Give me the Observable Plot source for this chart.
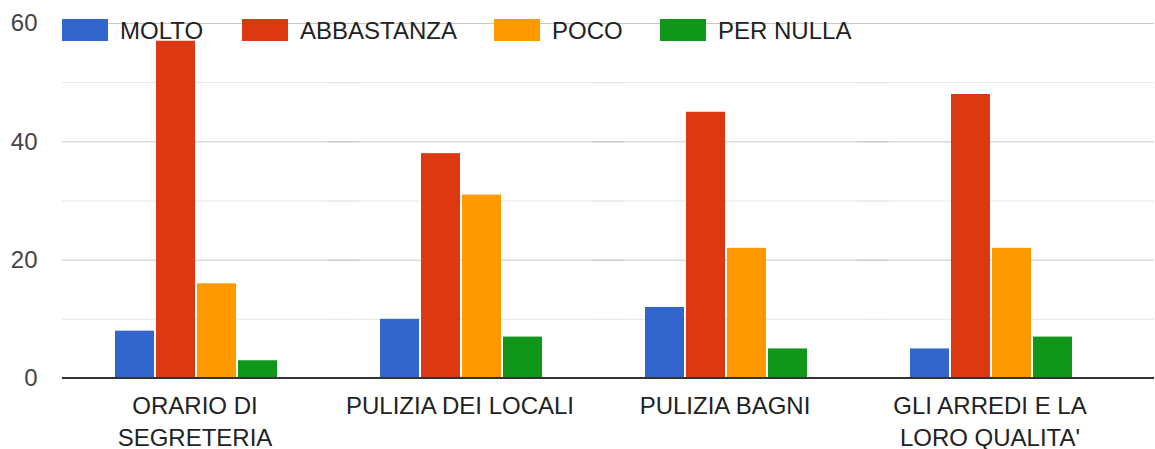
<!DOCTYPE html>
<html>
<head>
<meta charset="utf-8">
<script src="https://cdn.jsdelivr.net/npm/d3@7"></script>
<script src="https://cdn.jsdelivr.net/npm/@observablehq/plot@0.6"></script>
<style>
  html, body { margin: 0; padding: 0; background: #fff; }
  #wrap { position: relative; width: 1155px; height: 449px; font-family: "Liberation Sans", Arial, sans-serif; }
  #legend { position: absolute; left: 0; top: 0; width: 1155px; height: 45px; pointer-events: none; }
  .item { position: absolute; top: 19px; height: 22px; display: flex; align-items: center; }
  .sw { width: 46px; height: 22px; box-sizing: border-box; margin-right: 12px; }
  .lab { font-size: 24px; color: #222; line-height: 22px; position: relative; top: 1px; }
</style>
</head>
<body>
<div id="wrap">
  <div id="chart"></div>
  <div id="legend"></div>
</div>
<script>
const categories = ["ORARIO DI\nSEGRETERIA", "PULIZIA DEI LOCALI", "PULIZIA BAGNI", "GLI ARREDI E LA\nLORO QUALITA'"];
const series = ["MOLTO", "ABBASTANZA", "POCO", "PER NULLA"];
const molto = [8, 10, 12, 5];
const abbastanza = [57, 38, 45, 48];
const poco = [16, 31, 22, 22];
const perNulla = [3, 7, 5, 7];
const colors = ["#3366cc", "#dc3912", "#ff9900", "#109618"];
const majorTicks = [0, 20, 40, 60];
const minorTicks = [10, 30, 50];
const legendLeft = [62, 242, 494, 660];

const valuesBySeries = [molto, abbastanza, poco, perNulla];
const data = [];
categories.forEach((c, i) => {
  series.forEach((s, j) => {
    data.push({category: c, series: s, value: valuesBySeries[j][i]});
  });
});

const chart = Plot.plot({
  width: 1155,
  height: 449,
  marginTop: 23,
  marginBottom: 71,
  marginLeft: 62,
  marginRight: 31,
  style: {fontFamily: "'Liberation Sans', Arial, sans-serif", fontSize: "24px", background: "white", overflow: "visible"},
  fx: {domain: categories, padding: 0, label: null},
  x: {domain: series, paddingInner: 0.05, paddingOuter: 1.25, axis: null},
  y: {domain: [0, 60], label: null},
  color: {domain: series, range: colors},
  marks: [
    Plot.ruleY(minorTicks, {stroke: "#e8e8e8", strokeWidth: 1, insetLeft: -1, insetRight: -31}),
    Plot.ruleY(majorTicks.filter(d => d !== 0), {stroke: "#c8c8c8", strokeWidth: 1, insetLeft: -1, insetRight: -31}),
    Plot.barY(data, {fx: "category", x: "series", y: "value", fill: "series"}),
    Plot.ruleY([0], {stroke: "#333333", strokeWidth: 2, dy: -0.5, insetLeft: -1, insetRight: -31}),
    Plot.axisY(majorTicks, {tickSize: 0, tickPadding: 26, fill: "#444", label: null, fontSize: 24}),
    Plot.axisFx({anchor: "bottom", tickSize: 0, tickPadding: 13, lineHeight: 1.33, label: null, fill: "#222", fontSize: 24, dx: -1})
  ]
});
document.getElementById("chart").appendChild(chart);

const legend = document.getElementById("legend");
series.forEach((s, i) => {
  const item = document.createElement("div");
  item.className = "item";
  item.style.left = legendLeft[i] + "px";
  const sw = document.createElement("div");
  sw.className = "sw";
  sw.style.background = colors[i];
  const lab = document.createElement("span");
  lab.className = "lab";
  lab.textContent = s;
  item.appendChild(sw);
  item.appendChild(lab);
  legend.appendChild(item);
});
</script>
</body>
</html>
